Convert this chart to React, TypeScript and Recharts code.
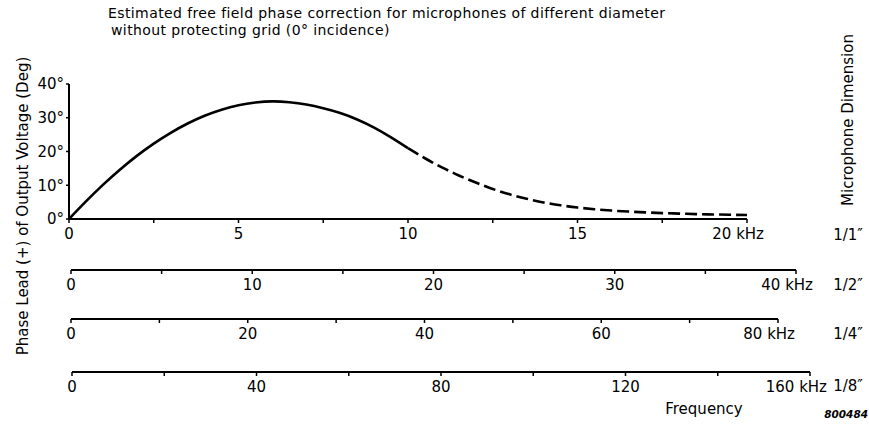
import { LineChart, Line, XAxis, YAxis } from "recharts";

const FONT = "'DejaVu Sans', Verdana, sans-serif";

// phase correction (kHz -> degrees), 1" microphone scale
const freq = [
  0, 0.5, 1, 1.5, 2, 2.5, 3, 3.5, 4, 4.5, 5, 5.5, 6, 6.5, 7, 7.5, 8, 8.5, 9, 9.5, 10,
  10.5, 11, 11.5, 12, 12.5, 13, 13.5, 14, 14.5, 15, 15.5, 16, 16.5, 17, 17.5, 18, 18.5, 19, 19.5, 20,
];
const phase = [
  0, 5.2, 10.1, 14.6, 18.7, 22.35, 25.55, 28.3, 30.6, 32.4, 33.7, 34.5, 34.85, 34.6, 33.9, 32.8, 31.4, 29.5, 27.1, 24.2, 21.0,
  18.0, 15.3, 12.9, 10.8, 8.9, 7.3, 6.0, 4.9, 4.05, 3.4, 2.9, 2.5, 2.2, 1.95, 1.75, 1.6, 1.45, 1.35, 1.25, 1.2,
];
const solidUntil = 10;

const yTicks = [0, 10, 20, 30, 40];

const ticks11 = [0, 2.5, 5, 7.5, 10, 12.5, 15, 17.5, 20];
const labels11 = [0, 5, 10, 15, 20];
const ticks12 = [0, 5, 10, 15, 20, 25, 30, 35, 40];
const labels12 = [0, 10, 20, 30, 40];
const ticks14 = [0, 10, 20, 30, 40, 50, 60, 70, 80];
const labels14 = [0, 20, 40, 60, 80];
const ticks18 = [0, 20, 40, 60, 80, 100, 120, 140, 160];
const labels18 = [0, 40, 80, 120, 160];

const sizes = ["1/1″", "1/2″", "1/4″", "1/8″"];

const chartData = freq.map((f, i) => ({
  f,
  solid: f <= solidUntil ? phase[i] : null,
  dashed: f >= solidUntil ? phase[i] : null,
}));

const axisLine = { stroke: "#000", strokeWidth: 2 };
const tickLine = { stroke: "#000", strokeWidth: 1.5 };

function FreqTick(props: any) {
  const { x, y, payload, majors, end } = props;
  const v = payload.value;
  if (!majors.includes(v)) return <g />;
  if (v === end) {
    return (
      <text x={x + 17} y={y} dy={14} textAnchor="end" fill="#000" fontSize={15} fontFamily={FONT}>
        {v} kHz
      </text>
    );
  }
  return (
    <text x={x} y={y} dy={14} textAnchor="middle" fill="#000" fontSize={15} fontFamily={FONT}>
      {v}
    </text>
  );
}

function AxisRow({ ticks, majors, x0, x1, lineY }: any) {
  const rowData = ticks.map((t: number) => ({ f: t, y: 0 }));
  return (
    <div style={{ position: "absolute", left: 0, top: lineY - 10 }}>
      <LineChart width={869} height={40} data={rowData} margin={{ top: 5, right: 869 - x1, bottom: 0, left: x0 }}>
        <XAxis
          dataKey="f"
          type="number"
          domain={[ticks[0], ticks[ticks.length - 1]]}
          ticks={ticks}
          interval={0}
          height={30}
          tickSize={4}
          axisLine={axisLine}
          tickLine={tickLine}
          tick={(p: any) => <FreqTick {...p} majors={majors} end={ticks[ticks.length - 1]} />}
        />
        <YAxis hide domain={[0, 1]} />
        <Line dataKey="y" stroke="none" dot={false} isAnimationActive={false} />
      </LineChart>
    </div>
  );
}

export default function App() {
  return (
    <div style={{ position: "absolute", left: 0, top: 0, width: 869, height: 425, background: "#fff", overflow: "hidden" }}>
      <div style={{ position: "absolute", left: 0, top: 0 }}>
        <LineChart width={869} height={250} data={chartData} margin={{ top: 84, right: 122, bottom: 0, left: 29 }}>
          <XAxis
            dataKey="f"
            type="number"
            domain={[0, 20]}
            ticks={ticks11}
            interval={0}
            height={31}
            tickSize={4}
            axisLine={axisLine}
            tickLine={tickLine}
            tick={(p: any) => <FreqTick {...p} majors={labels11} end={20} />}
          />
          <YAxis
            type="number"
            domain={[0, 40]}
            ticks={yTicks}
            interval={0}
            width={40}
            tickSize={3}
            axisLine={axisLine}
            tickLine={tickLine}
            tickFormatter={(v: number) => `${v}°`}
            tick={{ fill: "#000", fontSize: 15, fontFamily: FONT }}
          />
          <Line type="natural" dataKey="solid" stroke="#000" strokeWidth={2.6} dot={false} isAnimationActive={false} />
          <Line
            type="natural"
            dataKey="dashed"
            stroke="#000"
            strokeWidth={2.6}
            strokeDasharray="12 5"
            dot={false}
            isAnimationActive={false}
          />
        </LineChart>
      </div>

      <AxisRow ticks={ticks12} majors={labels12} x0={71} x1={796} lineY={270} />
      <AxisRow ticks={ticks14} majors={labels14} x0={71} x1={778} lineY={319} />
      <AxisRow ticks={ticks18} majors={labels18} x0={72} x1={810} lineY={372} />

      <svg width={869} height={425} style={{ position: "absolute", left: 0, top: 0, pointerEvents: "none" }}>
        <g fontFamily={FONT} fontSize={15} fill="#000">
          <g fontSize={14} letterSpacing={0.4}>
            <text x={108} y={18}>Estimated free field phase correction for microphones of different diameter</text>
            <text x={111} y={35}>without protecting grid (0° incidence)</text>
          </g>
          <text transform="translate(28,206) rotate(-90)" textAnchor="middle">
            Phase Lead (+) of Output Voltage (Deg)
          </text>
          <text transform="translate(853,120) rotate(-90)" textAnchor="middle">
            Microphone Dimension
          </text>
          {sizes.map((s, i) => (
            <text key={s} x={848} y={[240, 290, 339, 391][i]} textAnchor="middle">
              {s}
            </text>
          ))}
          <text x={704} y={414} textAnchor="middle">Frequency</text>
          <text x={868} y={418} textAnchor="end" fontSize={10.5} fontWeight="bold" fontStyle="italic">
            800484
          </text>
        </g>
      </svg>
    </div>
  );
}
